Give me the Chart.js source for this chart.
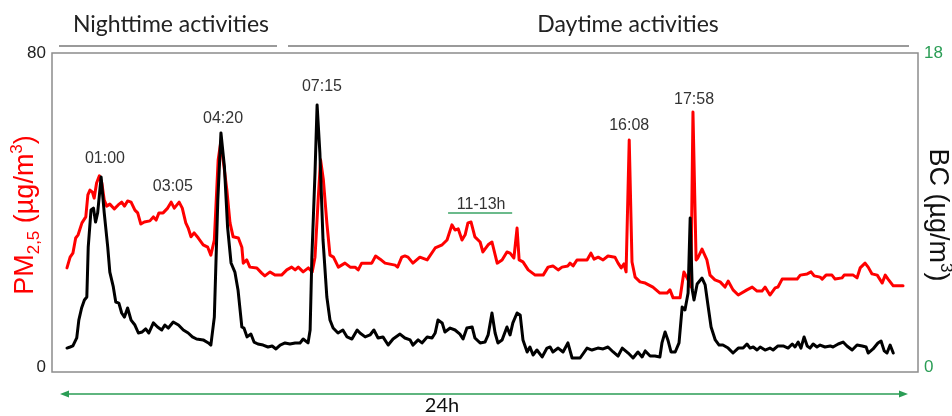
<!DOCTYPE html>
<html>
<head>
<meta charset="utf-8">
<script src="https://cdn.jsdelivr.net/npm/chart.js@4.4.1/dist/chart.umd.min.js"></script>
<style>
  html, body { margin: 0; padding: 0; background: #fff; }
  #chart { display: block; }
</style>
</head>
<body>
<canvas id="chart" width="952" height="416"></canvas>
<script>
// PM2.5 (left axis, µg/m3), time in hours from start
const pmHours = [0.00,0.09,0.17,0.25,0.32,0.43,0.54,0.60,0.66,0.73,
  0.78,0.85,0.93,1.00,1.07,1.14,1.23,1.36,1.47,1.57,
  1.65,1.74,1.84,1.95,2.03,2.12,2.22,2.38,2.48,2.56,
  2.64,2.76,2.89,2.99,3.08,3.22,3.31,3.41,3.48,3.56,
  3.65,3.77,3.91,4.04,4.13,4.23,4.34,4.41,4.49,4.59,
  4.68,4.77,4.92,5.02,5.06,5.16,5.25,5.45,5.59,5.68,
  5.83,5.97,6.16,6.31,6.45,6.55,6.64,6.78,6.93,7.04,
  7.12,7.21,7.28,7.36,7.46,7.55,7.65,7.79,7.98,8.13,
  8.27,8.36,8.46,8.75,8.86,8.99,9.13,9.42,9.49,9.61,
  9.70,9.79,9.93,10.13,10.34,10.57,10.77,10.91,11.05,11.14,
  11.23,11.34,11.43,11.51,11.60,11.71,11.86,11.94,12.09,12.20,
  12.35,12.49,12.63,12.72,12.83,12.92,12.98,13.09,13.24,13.44,
  13.67,13.81,13.95,14.10,14.21,14.38,14.44,14.53,14.64,14.93,
  15.04,15.13,15.25,15.39,15.53,15.73,15.82,15.91,15.99,16.05,
  16.14,16.22,16.31,16.45,16.60,16.82,17.02,17.23,17.31,17.40,
  17.60,17.71,17.83,17.91,17.97,18.06,18.11,18.23,18.37,18.46,
  18.60,18.75,18.89,18.98,19.12,19.27,19.52,19.67,19.81,19.95,
  20.04,20.18,20.33,20.41,20.53,20.96,21.05,21.25,21.36,21.45,
  21.62,21.68,21.79,21.96,22.05,22.25,22.31,22.57,22.68,22.77,
  22.91,23.00,23.11,23.26,23.40,23.49,23.57,23.72,24.00];
const pmValues = [26.1,28.8,29.8,33.6,34.4,37.4,38.9,44.4,45.6,45.1,
  43.6,47.4,49.2,47.4,43.1,41.6,42.1,40.9,41.9,42.6,
  41.6,42.9,42.6,40.6,39.9,37.1,37.6,37.9,38.9,38.1,
  39.9,39.9,41.1,42.6,41.1,42.6,41.1,37.4,36.1,33.9,
  34.9,33.6,31.9,31.3,29.3,33.1,53.2,57.4,52.7,45.6,
  37.4,33.9,33.6,31.3,27.3,28.1,26.3,26.1,24.8,24.1,
  25.1,24.3,24.3,25.6,26.3,25.6,26.3,25.1,26.1,25.1,
  28.8,43.1,53.2,48.2,37.4,29.3,28.8,26.3,27.3,26.3,
  26.3,25.6,27.3,27.3,29.1,28.3,27.3,26.8,26.3,28.8,
  29.1,28.8,27.3,28.8,28.1,31.1,31.9,33.1,36.9,35.6,
  35.9,33.1,34.4,37.4,37.6,33.9,32.6,30.1,31.9,32.6,
  27.3,28.1,30.1,29.8,28.6,36.1,28.1,27.6,25.6,24.3,
  24.3,26.3,26.6,25.6,26.3,26.6,27.3,26.6,28.1,28.1,
  29.8,28.3,28.8,28.1,29.1,28.8,27.3,26.1,27.1,25.1,
  58.2,27.6,23.8,22.6,22.3,21.3,19.8,19.8,20.6,18.6,
  18.6,25.1,23.1,21.3,65.2,28.1,28.6,30.8,28.1,24.3,
  23.1,22.6,21.3,22.8,20.6,19.3,20.6,21.3,20.3,20.3,
  21.3,19.3,21.1,21.3,23.3,23.3,24.3,24.6,25.1,24.1,
  23.8,23.3,24.3,24.3,23.3,23.6,24.3,24.3,23.6,26.1,
  27.3,26.3,24.6,24.3,22.3,24.3,23.3,21.6,21.6];

// BC (right axis, µg/m3)
const bcHours = [0.00,0.09,0.17,0.28,0.34,0.42,0.50,0.57,0.61,0.69,
  0.76,0.82,0.88,0.98,1.07,1.17,1.23,1.33,1.40,1.49,
  1.57,1.65,1.74,1.84,1.95,2.05,2.16,2.26,2.35,2.48,
  2.60,2.72,2.81,2.91,3.05,3.20,3.34,3.48,3.60,3.72,
  3.91,4.06,4.13,4.23,4.33,4.42,4.52,4.61,4.71,4.82,
  4.91,5.02,5.08,5.17,5.28,5.37,5.48,5.63,5.77,5.89,
  6.00,6.12,6.26,6.40,6.55,6.69,6.78,6.92,6.98,7.03,
  7.12,7.18,7.26,7.35,7.46,7.55,7.64,7.78,7.92,8.04,
  8.18,8.33,8.41,8.56,8.70,8.81,8.93,9.07,9.22,9.36,
  9.56,9.70,9.85,9.93,10.08,10.19,10.34,10.48,10.57,10.65,
  10.77,10.85,11.00,11.14,11.28,11.37,11.48,11.63,11.71,11.86,
  12.00,12.09,12.20,12.29,12.37,12.49,12.63,12.72,12.80,12.92,
  13.01,13.09,13.21,13.29,13.38,13.49,13.64,13.78,13.87,13.95,
  14.10,14.24,14.38,14.50,14.73,14.93,15.07,15.24,15.39,15.53,
  15.68,15.82,15.94,16.11,16.25,16.39,16.51,16.60,16.74,16.88,
  17.02,17.08,17.17,17.25,17.34,17.46,17.57,17.66,17.74,17.83,
  17.89,17.95,18.00,18.09,18.23,18.32,18.40,18.49,18.61,18.72,
  18.83,18.98,19.12,19.27,19.41,19.52,19.61,19.70,19.81,19.90,
  20.04,20.18,20.27,20.41,20.56,20.70,20.82,20.90,20.99,21.07,
  21.16,21.25,21.33,21.42,21.53,21.62,21.76,21.91,21.99,22.14,
  22.28,22.39,22.54,22.68,22.83,22.94,23.00,23.14,23.28,23.37,
  23.46,23.54,23.63,23.72];
const bcValues = [1.35,1.41,1.47,1.92,2.93,3.61,4.06,4.23,7.05,9.14,
  9.25,8.46,8.97,11.00,8.97,7.05,5.64,4.80,3.95,3.89,
  3.33,3.10,3.61,2.93,2.65,2.20,2.26,2.43,2.20,2.77,
  2.54,2.37,2.65,2.48,2.82,2.65,2.37,2.20,1.98,1.86,
  1.81,1.64,1.52,3.10,9.71,13.49,11.57,8.18,6.15,5.64,
  4.63,2.54,2.48,1.98,2.14,1.69,1.58,1.52,1.41,1.47,
  1.30,1.52,1.64,1.58,1.64,1.64,1.86,1.64,2.37,6.49,
  11.23,15.07,12.36,7.45,4.23,2.93,2.48,2.20,2.37,1.98,
  1.86,2.37,2.20,1.98,2.09,2.37,1.92,1.98,1.52,1.86,
  2.14,1.92,1.81,1.52,1.81,1.64,1.98,1.92,2.20,2.93,
  2.77,2.26,2.48,2.37,2.14,1.86,2.48,2.54,1.92,1.64,
  1.69,2.09,3.33,2.20,1.64,1.81,2.54,2.09,2.77,3.33,
  3.22,1.81,1.13,1.41,0.96,1.24,0.85,1.35,1.41,1.13,
  1.35,1.13,1.64,0.79,0.79,1.35,1.24,1.35,1.30,1.41,
  1.13,0.90,1.35,1.07,0.79,1.13,0.85,1.19,0.90,0.90,
  0.85,1.64,2.26,1.81,1.13,1.13,1.64,3.67,3.50,4.46,
  8.69,4.63,4.06,4.97,5.30,4.91,3.78,2.54,1.81,1.52,
  1.52,1.35,1.07,1.35,1.35,1.58,1.35,1.41,1.24,1.41,
  1.24,1.35,1.24,1.47,1.47,1.35,1.58,1.41,1.69,1.35,
  1.98,1.47,1.35,1.58,1.41,1.52,1.41,1.47,1.41,1.58,
  1.69,1.47,1.24,1.52,1.47,1.41,1.07,1.30,1.64,1.75,
  1.19,1.07,1.52,1.07];

// axis ranges and ticks
const pmTicks = [0, 80];
const bcTicks = [0, 18];

// peak labels: text, hour, PM2.5 level where the label sits
const peakLabels = [
  ['01:00', 1.09, 53.4],
  ['03:05', 3.04, 46.6],
  ['04:20', 4.48, 63.5],
  ['07:15', 7.32, 71.5],
  ['16:08', 16.14, 61.9],
  ['17:58', 18.00, 68.2]
];

const GREEN = '#2a9d55';

function richText(ctx, parts, x, y, angle) {
  ctx.save();
  ctx.translate(x, y);
  ctx.rotate(angle);
  let total = 0;
  parts.forEach(p => {
    ctx.font = p.size + 'px "Liberation Sans", Arial, sans-serif';
    p.w = ctx.measureText(p.t).width;
    total += p.w;
  });
  let cx = -total / 2;
  ctx.textBaseline = 'alphabetic';
  ctx.textAlign = 'left';
  parts.forEach(p => {
    ctx.font = p.size + 'px "Liberation Sans", Arial, sans-serif';
    ctx.fillText(p.t, cx, p.dy || 0);
    cx += p.w;
  });
  ctx.restore();
}

const overlay = {
  id: 'overlay',
  beforeDatasetsDraw(chart) {
    const { ctx, chartArea: a } = chart;
    ctx.save();
    ctx.strokeStyle = '#8c8c8c';
    ctx.lineWidth = 1.5;
    ctx.strokeRect(a.left, a.top, a.right - a.left, a.bottom - a.top);
    ctx.restore();
  },
  afterDraw(chart) {
    const { ctx, scales } = chart;
    const xs = scales.x, yl = scales.y, yr = scales.y1;
    ctx.save();

    // tick labels
    ctx.font = '17px "Liberation Sans", Arial, sans-serif';
    ctx.textBaseline = 'middle';
    ctx.fillStyle = '#222';
    ctx.textAlign = 'right';
    pmTicks.forEach(v => {
      const py = yl.getPixelForValue(v) - (v === 0 ? 5 : 0);
      ctx.fillText(String(v), 46, py);
    });
    ctx.fillStyle = GREEN;
    ctx.textAlign = 'left';
    bcTicks.forEach(v => {
      const py = yr.getPixelForValue(v) - (v === 0 ? 5 : 0);
      ctx.fillText(String(v), 924, py);
    });

    // axis titles
    ctx.fillStyle = '#ff0000';
    richText(ctx, [
      { t: 'PM', size: 27 },
      { t: '2,5', size: 17, dy: 6 },
      { t: ' (µg/m', size: 27 },
      { t: '3', size: 17, dy: -11 },
      { t: ')', size: 27 }
    ], 33, 215, -Math.PI / 2);
    ctx.fillStyle = '#111';
    richText(ctx, [
      { t: 'BC (µg/m', size: 27 },
      { t: '3', size: 17, dy: -11 },
      { t: ')', size: 27 }
    ], 930, 215, Math.PI / 2);

    // peak labels
    ctx.font = '16px "Liberation Sans", Arial, sans-serif';
    ctx.fillStyle = '#333';
    ctx.textAlign = 'center';
    ctx.textBaseline = 'middle';
    peakLabels.forEach(([txt, h, v]) => {
      ctx.fillText(txt, xs.getPixelForValue(h), yl.getPixelForValue(v));
    });

    // 11-13h bracket
    ctx.fillText('11-13h', xs.getPixelForValue(11.89), yl.getPixelForValue(42.1));
    ctx.strokeStyle = '#3aa364';
    ctx.lineWidth = 1.5;
    ctx.beginPath();
    ctx.moveTo(xs.getPixelForValue(10.94), yl.getPixelForValue(39.9));
    ctx.lineTo(xs.getPixelForValue(12.78), yl.getPixelForValue(39.9));
    ctx.stroke();

    // period headers
    ctx.font = '23px Lato, "Open Sans", sans-serif';
    ctx.fillStyle = '#222';
    ctx.textBaseline = 'alphabetic';
    ctx.fillText('Nighttime activities', 171, 32);
    ctx.fillText('Daytime activities', 628, 32);
    ctx.strokeStyle = '#9a9a9a';
    ctx.lineWidth = 2;
    ctx.beginPath();
    ctx.moveTo(59, 46); ctx.lineTo(277, 46);
    ctx.moveTo(288, 46); ctx.lineTo(909, 46);
    ctx.stroke();

    // 24h arrow
    const ay = 394, ax0 = 60, ax1 = 908;
    ctx.strokeStyle = GREEN;
    ctx.fillStyle = GREEN;
    ctx.lineWidth = 1.5;
    ctx.beginPath();
    ctx.moveTo(ax0 + 6, ay); ctx.lineTo(ax1 - 6, ay);
    ctx.stroke();
    ctx.beginPath();
    ctx.moveTo(ax0, ay); ctx.lineTo(ax0 + 9, ay - 3.5); ctx.lineTo(ax0 + 9, ay + 3.5); ctx.closePath();
    ctx.moveTo(ax1, ay); ctx.lineTo(ax1 - 9, ay - 3.5); ctx.lineTo(ax1 - 9, ay + 3.5); ctx.closePath();
    ctx.fill();
    ctx.font = '20px Lato, "Open Sans", sans-serif';
    ctx.fillStyle = '#111';
    ctx.textAlign = 'center';
    ctx.fillText('24h', 442, 412);

    ctx.restore();
  }
};

new Chart(document.getElementById('chart'), {
  type: 'line',
  data: {
    datasets: [
      {
        label: 'BC',
        data: bcHours.map((h, i) => ({ x: h, y: bcValues[i] })),
        borderColor: '#000',
        borderWidth: 3,
        yAxisID: 'y1',
        order: 0
      },
      {
        label: 'PM2,5',
        data: pmHours.map((h, i) => ({ x: h, y: pmValues[i] })),
        borderColor: '#ff0000',
        borderWidth: 3,
        yAxisID: 'y',
        order: 1
      }
    ]
  },
  plugins: [overlay],
  options: {
    responsive: false,
    animation: false,
    layout: { padding: { left: 52, top: 53, right: 34, bottom: 44 } },
    elements: {
      point: { radius: 0 },
      line: { tension: 0, borderJoinStyle: 'round', borderCapStyle: 'round' }
    },
    scales: {
      x: { type: 'linear', min: -0.43, max: 24.43, display: false },
      y: { min: pmTicks[0], max: pmTicks[1], display: false },
      y1: { min: bcTicks[0], max: bcTicks[1], display: false }
    },
    plugins: {
      legend: { display: false },
      tooltip: { enabled: false }
    }
  }
});
</script>
</body>
</html>
